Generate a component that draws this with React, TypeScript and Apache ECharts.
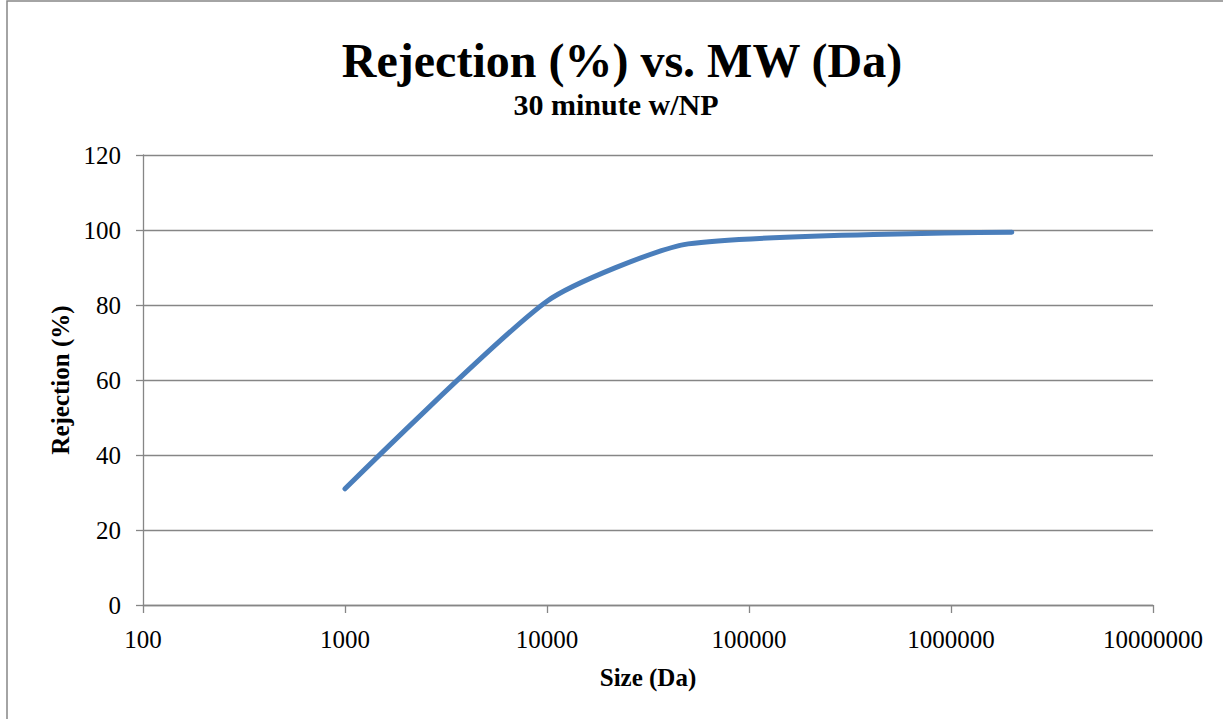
import React, { useEffect, useRef } from "react";
import * as echarts from "echarts";

const sizesDa = [1000, 10000, 50000, 2000000];
const rejection = [31, 81, 96.3, 99.4];
const xTickLabels = ["100", "1000", "10000", "100000", "1000000", "10000000"];
const yTickLabels = ["0", "20", "40", "60", "80", "100", "120"];

const FONT = '"Liberation Serif", "Times New Roman", serif';
const GRID_COLOR = "#868686";

export default function App() {
  const ref = useRef<HTMLDivElement>(null);
  useEffect(() => {
    if (!ref.current) return;
    const chart = echarts.init(ref.current, null, { renderer: "svg" });
    chart.setOption({
      animation: false,
      backgroundColor: "#ffffff",
      graphic: [
        {
          type: "rect",
          shape: { x: 7, y: 1, width: 1400, height: 900 },
          style: { fill: "none", stroke: GRID_COLOR, lineWidth: 1.5 },
          silent: true,
        },
        {
          type: "text",
          x: 622,
          y: 60,
          style: {
            text: "Rejection (%) vs. MW (Da)",
            font: `bold 48px ${FONT}`,
            fill: "#000",
            align: "center",
            verticalAlign: "middle",
          },
        },
        {
          type: "text",
          x: 616,
          y: 104,
          style: {
            text: "30 minute w/NP",
            font: `bold 30px ${FONT}`,
            fill: "#000",
            align: "center",
            verticalAlign: "middle",
          },
        },
      ],
      grid: { left: 143, right: 70, top: 155, bottom: 114 },
      xAxis: {
        type: "log",
        logBase: 10,
        min: 100,
        max: 10000000,
        name: "Size (Da)",
        nameLocation: "middle",
        nameGap: 60,
        nameTextStyle: { fontFamily: FONT, fontSize: 25, fontWeight: "bold", color: "#000" },
        axisLine: { show: true, lineStyle: { color: GRID_COLOR, width: 1.3 } },
        axisTick: { show: true, length: 8, lineStyle: { color: GRID_COLOR, width: 1.3 } },
        minorTick: { show: false },
        splitLine: { show: false },
        axisLabel: {
          fontFamily: FONT,
          fontSize: 25,
          color: "#000",
          margin: 22,
          formatter: (_v: number, i: number) => xTickLabels[i] ?? "",
        },
      },
      yAxis: {
        type: "value",
        min: 0,
        max: 120,
        interval: 20,
        name: "Rejection (%)",
        nameLocation: "middle",
        nameGap: 70,
        nameTextStyle: { fontFamily: FONT, fontSize: 25, fontWeight: "bold", color: "#000" },
        axisLine: { show: true, lineStyle: { color: GRID_COLOR, width: 1.3 } },
        axisTick: { show: true, length: 7, lineStyle: { color: GRID_COLOR, width: 1.3 } },
        splitLine: { show: true, lineStyle: { color: GRID_COLOR, width: 1.3 } },
        axisLabel: {
          fontFamily: FONT,
          fontSize: 25,
          color: "#000",
          margin: 22,
          formatter: (_v: number, i: number) => yTickLabels[i] ?? "",
        },
      },
      series: [
        {
          type: "line",
          data: sizesDa.map((s, i) => [s, rejection[i]]),
          smooth: 0.2,
          showSymbol: false,
          symbol: "none",
          lineStyle: { color: "#4A7EBB", width: 5, cap: "round" },
        },
      ],
    });
    return () => chart.dispose();
  }, []);
  return (
    <div
      ref={ref}
      style={{ position: "absolute", left: 0, top: 0, width: 1223, height: 719 }}
    />
  );
}
